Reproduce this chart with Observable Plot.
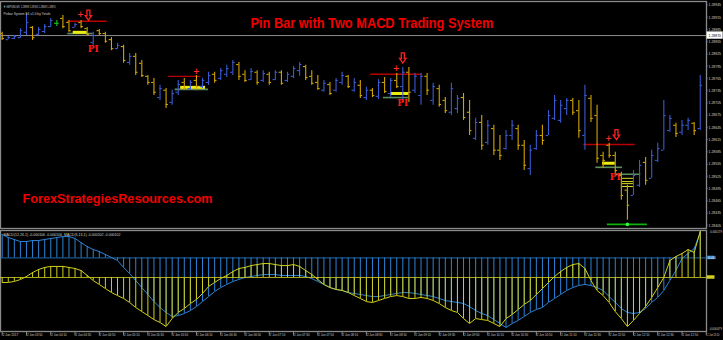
<!DOCTYPE html>
<html><head><meta charset="utf-8">
<script src="https://cdn.jsdelivr.net/npm/d3@7"></script>
<script src="https://cdn.jsdelivr.net/npm/@observablehq/plot@0.6"></script>
<style>
html,body{margin:0;padding:0;background:#000;}
#wrap{position:relative;width:723px;height:340px;background:#000;overflow:hidden;}
</style></head><body><div id="wrap"></div>
<script>
// ---------- price bars (GBPUSD M5) ----------
const opens  = [1.28875,1.28860,1.28863,1.28865,1.28878,1.28890,1.28873,1.28880,1.28892,1.28900,1.28912,1.28902,1.28890,1.28902,1.28887,1.28853,1.28882,1.28875,1.28860,1.28838,1.28843,1.28804,1.28819,1.28802,1.28770,1.28755,1.28718,1.28736,1.28706,1.28731,1.28755,1.28740,1.28760,1.28745,1.28755,1.28775,1.28765,1.28775,1.28780,1.28799,1.28775,1.28762,1.28780,1.28760,1.28775,1.28762,1.28780,1.28760,1.28770,1.28784,1.28794,1.28770,1.28755,1.28736,1.28750,1.28736,1.28755,1.28770,1.28736,1.28748,1.28718,1.28736,1.28721,1.28755,1.28728,1.28760,1.28745,1.28780,1.28736,1.28723,1.28770,1.28711,1.28740,1.28711,1.28682,1.28691,1.28718,1.28682,1.28618,1.28657,1.28608,1.28642,1.28589,1.28593,1.28625,1.28642,1.28601,1.28544,1.28593,1.28625,1.28625,1.28667,1.28662,1.28691,1.28711,1.28686,1.28625,1.28716,1.28674,1.28576,1.28601,1.28576,1.28527,1.28491,1.28478,1.28503,1.28559,1.28520,1.28564,1.28589,1.28637,1.28650,1.28633,1.28650,1.28655,1.28642];
const highs  = [1.28878,1.28868,1.28870,1.28887,1.28922,1.28892,1.28890,1.28897,1.28912,1.28907,1.28919,1.28907,1.28900,1.28907,1.28890,1.28878,1.28885,1.28878,1.28865,1.28851,1.28846,1.28826,1.28826,1.28809,1.28772,1.28765,1.28748,1.28740,1.28736,1.28760,1.28765,1.28760,1.28772,1.28765,1.28780,1.28780,1.28789,1.28797,1.28809,1.28804,1.28784,1.28789,1.28784,1.28784,1.28780,1.28784,1.28784,1.28780,1.28794,1.28804,1.28797,1.28784,1.28772,1.28760,1.28755,1.28765,1.28780,1.28772,1.28765,1.28760,1.28743,1.28740,1.28762,1.28767,1.28765,1.28777,1.28792,1.28792,1.28777,1.28777,1.28777,1.28753,1.28748,1.28718,1.28753,1.28723,1.28728,1.28711,1.28667,1.28674,1.28662,1.28650,1.28625,1.28637,1.28662,1.28650,1.28613,1.28601,1.28637,1.28650,1.28686,1.28723,1.28711,1.28716,1.28716,1.28711,1.28748,1.28723,1.28699,1.28584,1.28606,1.28584,1.28535,1.28503,1.28539,1.28564,1.28571,1.28589,1.28606,1.28711,1.28674,1.28655,1.28662,1.28667,1.28657,1.28772];
const lows   = [1.28858,1.28860,1.28860,1.28863,1.28870,1.28858,1.28870,1.28875,1.28890,1.28892,1.28887,1.28878,1.28890,1.28887,1.28870,1.28846,1.28870,1.28851,1.28833,1.28836,1.28802,1.28797,1.28772,1.28767,1.28748,1.28723,1.28711,1.28691,1.28699,1.28723,1.28736,1.28736,1.28736,1.28740,1.28748,1.28753,1.28760,1.28767,1.28772,1.28760,1.28755,1.28760,1.28748,1.28755,1.28748,1.28760,1.28748,1.28755,1.28765,1.28770,1.28760,1.28748,1.28736,1.28731,1.28723,1.28731,1.28748,1.28740,1.28731,1.28716,1.28711,1.28718,1.28713,1.28728,1.28718,1.28740,1.28706,1.28706,1.28728,1.28699,1.28723,1.28699,1.28694,1.28679,1.28674,1.28679,1.28662,1.28625,1.28613,1.28589,1.28601,1.28576,1.28564,1.28589,1.28613,1.28589,1.28539,1.28527,1.28589,1.28601,1.28625,1.28662,1.28655,1.28674,1.28674,1.28618,1.28589,1.28657,1.28557,1.28544,1.28569,1.28532,1.28466,1.28417,1.28478,1.28498,1.28503,1.28520,1.28559,1.28589,1.28633,1.28620,1.28625,1.28637,1.28625,1.28637];
const closes = [1.28863,1.28865,1.28868,1.28882,1.28902,1.28865,1.28885,1.28892,1.28907,1.28900,1.28892,1.28882,1.28897,1.28892,1.28873,1.28870,1.28875,1.28856,1.28838,1.28846,1.28809,1.28819,1.28780,1.28772,1.28755,1.28731,1.28740,1.28701,1.28728,1.28750,1.28740,1.28755,1.28745,1.28760,1.28772,1.28760,1.28784,1.28789,1.28804,1.28770,1.28760,1.28782,1.28755,1.28777,1.28755,1.28780,1.28753,1.28775,1.28789,1.28799,1.28767,1.28753,1.28740,1.28753,1.28728,1.28760,1.28772,1.28745,1.28755,1.28723,1.28736,1.28723,1.28755,1.28733,1.28760,1.28745,1.28780,1.28731,1.28770,1.28770,1.28736,1.28745,1.28701,1.28686,1.28740,1.28716,1.28669,1.28637,1.28657,1.28601,1.28650,1.28589,1.28576,1.28625,1.28650,1.28601,1.28552,1.28589,1.28625,1.28613,1.28674,1.28711,1.28699,1.28711,1.28682,1.28637,1.28723,1.28667,1.28569,1.28564,1.28576,1.28539,1.28478,1.28454,1.28527,1.28552,1.28515,1.28576,1.28593,1.28674,1.28667,1.28630,1.28650,1.28662,1.28637,1.28748];
const greenBars = [9];

// ---------- two MACD histograms ----------
const macdBlue = [0.000159,0.000138,0.000125,0.000111,0.000111,0.000118,0.000118,0.000125,0.000132,0.000138,0.000145,0.000145,0.000132,0.000104,0.000077,0.000057,0.000043,0.000023,0.000003,-0.000018,-0.000065,-0.000106,-0.000153,-0.000201,-0.000248,-0.000296,-0.000336,-0.000370,-0.000397,-0.000391,-0.000377,-0.000357,-0.000330,-0.000296,-0.000262,-0.000228,-0.000201,-0.000180,-0.000160,-0.000146,-0.000133,-0.000126,-0.000119,-0.000113,-0.000113,-0.000113,-0.000119,-0.000119,-0.000119,-0.000119,-0.000126,-0.000140,-0.000160,-0.000180,-0.000201,-0.000214,-0.000221,-0.000235,-0.000241,-0.000248,-0.000255,-0.000262,-0.000262,-0.000255,-0.000248,-0.000241,-0.000235,-0.000235,-0.000241,-0.000248,-0.000255,-0.000262,-0.000275,-0.000289,-0.000296,-0.000302,-0.000309,-0.000330,-0.000357,-0.000377,-0.000391,-0.000418,-0.000445,-0.000472,-0.000445,-0.000424,-0.000397,-0.000370,-0.000350,-0.000336,-0.000302,-0.000275,-0.000248,-0.000221,-0.000201,-0.000187,-0.000180,-0.000187,-0.000201,-0.000221,-0.000262,-0.000302,-0.000343,-0.000370,-0.000377,-0.000370,-0.000343,-0.000302,-0.000268,-0.000221,-0.000153,-0.000085,-0.000004,0.000030,0.000064,0.000172];
const macdYellow = [-0.000034,-0.000034,-0.000027,-0.000014,0.000007,0.000034,0.000055,0.000069,0.000076,0.000076,0.000076,0.000069,0.000062,0.000048,0.000014,-0.000021,-0.000048,-0.000076,-0.000103,-0.000124,-0.000144,-0.000172,-0.000206,-0.000234,-0.000261,-0.000289,-0.000309,-0.000337,-0.000282,-0.000240,-0.000213,-0.000179,-0.000151,-0.000110,-0.000062,-0.000034,-0.000007,0.000014,0.000041,0.000062,0.000069,0.000082,0.000089,0.000096,0.000096,0.000089,0.000082,0.000082,0.000089,0.000076,0.000048,0.000021,-0.000014,-0.000048,-0.000069,-0.000082,-0.000089,-0.000103,-0.000124,-0.000144,-0.000165,-0.000172,-0.000158,-0.000144,-0.000131,-0.000124,-0.000131,-0.000144,-0.000144,-0.000137,-0.000144,-0.000158,-0.000179,-0.000206,-0.000227,-0.000240,-0.000282,-0.000316,-0.000282,-0.000289,-0.000295,-0.000316,-0.000337,-0.000282,-0.000254,-0.000220,-0.000185,-0.000158,-0.000117,-0.000076,-0.000034,0.000007,0.000041,0.000069,0.000089,0.000096,0.000062,-0.000021,-0.000089,-0.000124,-0.000172,-0.000234,-0.000282,-0.000337,-0.000295,-0.000247,-0.000199,-0.000137,-0.000069,0.000000,0.000117,0.000144,0.000165,0.000192,0.000172,0.000316];

// ---------- pin bar signals ----------
const redLines    = [{a:10.8,b:17.3,p:1.28905},{a:27.4,b:32.7,p:1.28770},{a:60.7,b:69.2,p:1.28775},{a:95.8,b:104.3,p:1.28603}];
const redCrosses  = [{i:12.9,p:1.28923},{i:32,p:1.28782},{i:64.9,p:1.28790},{i:99.9,p:1.28619}];
const downArrows  = [{i:14.2,p:1.28919},{i:66,p:1.28814},{i:101.2,p:1.28626}];
const piLabels    = [{i:15,p:1.28838},{i:66,p:1.28704},{i:101,p:1.28522}];
const yellowBands = [{a:11.7,b:14,p:1.28878},{a:29.4,b:33.5,p:1.28743},{a:64,b:67,p:1.28728},{a:98.9,b:101,p:1.28557}];
const yellowSteps = [{a:102.2,b:104,p:1.28520},{a:102.2,b:104,p:1.28512},{a:102.2,b:104,p:1.28507},{a:102.2,b:104,p:1.28500}];
const greenLines  = [{a:10.8,b:15,p:1.28875},{a:28.5,b:34,p:1.28738},{a:62.8,b:67,p:1.28718},{a:97.8,b:102.2,p:1.28547},{a:101,b:105.2,p:1.28530}];
const targetLines = [{a:99.7,b:106.3,p:1.28407}];
const targetDots  = [{i:103,p:1.28407}];
const bidPrice = 1.28870;

// ---------- axis labels ----------
const priceTicks = [1.28405,1.28435,1.28465,1.28495,1.28525,1.28555,1.28585,1.28615,1.28645,1.28675,1.28705,1.28735,1.28765,1.28795,1.28825,1.28855,1.28885,1.28915,1.28945];
const timeTickBars = [0,4,8,12,16,20,24,28,32,36,40,44,48,52,56,60,64,68,72,76,80,84,88,92,96,100,104,108,112];
const timeTickLabels = ["2 Jun 2017","2 Jun 03:50","2 Jun 04:10","2 Jun 04:30","2 Jun 04:50","2 Jun 05:10","2 Jun 05:30","2 Jun 05:50","2 Jun 06:10","2 Jun 06:30","2 Jun 06:50","2 Jun 07:10","2 Jun 07:30","2 Jun 07:50","2 Jun 08:10","2 Jun 08:30","2 Jun 08:50","2 Jun 09:10","2 Jun 09:30","2 Jun 09:50","2 Jun 10:10","2 Jun 10:30","2 Jun 10:50","2 Jun 11:10","2 Jun 11:30","2 Jun 11:50","2 Jun 12:10","2 Jun 12:30","2 Jun 12:50"];
const lastTimeBar = 116, lastTimeLabel = "2 Jun 13:10";
const macdTicks = [0.000179,-0.000479];
const headerLine1 = "\u25BC GBPUSD,M5  1.28898 1.28905 1.28849 1.28870";
const headerLine2 = "Pinbar System E4 v1.0 by Yetafx";
const macdHeader = "MACD(12,26,1) -0.000106 -0.000106  MACD(5,13,1) -0.000102 -0.000102";
const TITLE = "Pin Bar with Two MACD Trading System";
const WATERMARK = "ForexStrategiesResources.com";

// ---------- styles ----------
const BLUE = "#3a5ad2", GOLD = "#d2a400", GREEN = "#19c419";
const MBLUE = "#2c82d6", MYEL = "#cfcf1c";
const GRID = "#8a8a8a", LBL = "#cfcfcf";
const TINY = "Liberation Sans";
const W = 723, XDOM = [-0.28, 116.03];

const idx = d3.range(opens.length);
const bars = idx.map(i => ({i, o: opens[i], h: highs[i], l: lows[i], c: closes[i],
  col: greenBars.includes(i) ? GREEN : (closes[i] >= opens[i] ? BLUE : GOLD)}));
const tw = 0.38;

// hollow down-arrow symbol for the pin bar signal
const hollowArrow = {
  draw(ctx, size) {
    const h = Math.sqrt(size);
    ctx.moveTo(-0.17 * h, -0.62 * h);
    ctx.lineTo(0.17 * h, -0.62 * h);
    ctx.lineTo(0.17 * h, 0);
    ctx.lineTo(0.36 * h, 0);
    ctx.lineTo(0, 0.52 * h);
    ctx.lineTo(-0.36 * h, 0);
    ctx.lineTo(-0.17 * h, 0);
    ctx.closePath();
  }
};

const main = Plot.plot({
  width: W, height: 229, marginTop: 1, marginBottom: 1, marginLeft: 0, marginRight: 17,
  style: {background: "transparent", overflow: "visible", position: "absolute", left: "0px", top: "0px"},
  x: {domain: XDOM, axis: null},
  y: {domain: [1.283970, 1.289535], axis: null},
  color: {type: "identity"},
  marks: [
    Plot.frame({stroke: GRID, strokeWidth: 1.3}),
    Plot.ruleY([bidPrice], {stroke: "#8c8c8c", strokeWidth: 1}),
    Plot.ruleY(greenLines, {x1: "a", x2: "b", y: "p", stroke: "#5e8c5e", strokeWidth: 1.6}),
    Plot.ruleY(yellowBands, {x1: "a", x2: "b", y: "p", stroke: "#ecec10", strokeWidth: 3}),
    Plot.ruleY(yellowSteps, {x1: "a", x2: "b", y: "p", stroke: "#dede20", strokeWidth: 1}),
    Plot.ruleY(targetLines, {x1: "a", x2: "b", y: "p", stroke: "#10b010", strokeWidth: 1.6}),
    Plot.dot(targetDots, {x: "i", y: "p", r: 1.8, fill: "#30ff30"}),
    Plot.ruleY(redLines, {x1: "a", x2: "b", y: "p", stroke: "#b80000", strokeWidth: 1.4}),
    Plot.ruleX(bars, {x: "i", y1: "l", y2: "h", stroke: "col", strokeWidth: 1.1}),
    Plot.ruleY(bars, {y: "o", x1: d => d.i - tw, x2: "i", stroke: "col", strokeWidth: 1.1}),
    Plot.ruleY(bars, {y: "c", x1: "i", x2: d => d.i + tw, stroke: "col", strokeWidth: 1.1}),
    Plot.text(redCrosses, {x: "i", y: "p", text: () => "+", fill: "#ff2a2a", fontSize: 8, fontWeight: "bold", fontFamily: "DejaVu Sans"}),
    Plot.dot(downArrows, {x: "i", y: "p", r: 5, symbol: hollowArrow, stroke: "#ff2020", strokeWidth: 1.3, fill: "none"}),
    Plot.text(piLabels, {x: "i", y: "p", text: () => "PI", fill: "#ff1a1a", fontSize: 9, fontWeight: "bold", fontFamily: "DejaVu Serif"}),
    Plot.text([TITLE], {frameAnchor: "top-left", dx: 250, dy: 17, text: d => d, textAnchor: "start", fill: "#f00000", fontSize: 14, fontWeight: "bold", fontFamily: "Liberation Sans"}),
    Plot.text([WATERMARK], {frameAnchor: "top-left", dx: 22, dy: 192, text: d => d, textAnchor: "start", fill: "#f00000", fontSize: 13, fontWeight: "bold", fontFamily: "Liberation Sans"}),
    Plot.text([headerLine1], {frameAnchor: "top-left", dx: 3, dy: 3.5, text: d => d, textAnchor: "start", fill: LBL, fontSize: 4, fontFamily: TINY}),
    Plot.text([headerLine2], {frameAnchor: "top-left", dx: 3, dy: 10.5, text: d => d, textAnchor: "start", fill: LBL, fontSize: 4, fontFamily: TINY}),
    Plot.ruleY(priceTicks, {y: d => d, x1: XDOM[1], x2: XDOM[1] + 0.25, stroke: GRID}),
    Plot.text(priceTicks, {x: XDOM[1], y: d => d, text: d => d.toFixed(5), dx: 2, textAnchor: "start", fill: LBL, fontSize: 4.2, fontFamily: TINY}),
    Plot.rect([bidPrice], {x1: XDOM[1] + 0.1, x2: XDOM[1] + 2.75, y1: d => d - 0.00009, y2: d => d + 0.00009, fill: "#ffffff"}),
    Plot.text([bidPrice], {x: XDOM[1], y: d => d, text: d => d.toFixed(5), dx: 2, textAnchor: "start", fill: "#000", fontSize: 4.2, fontFamily: TINY})
  ]
});

const macdB = Plot.plot({
  width: W, height: 111, marginTop: 1, marginBottom: 9, marginLeft: 0, marginRight: 17,
  style: {background: "transparent", overflow: "visible", position: "absolute", left: "0px", top: "229px"},
  x: {domain: XDOM, axis: null},
  y: {domain: [-0.000499, 0.000186], axis: null},
  marks: [
    Plot.frame({stroke: GRID, strokeWidth: 1.3}),
    Plot.ruleY([0], {stroke: MBLUE, strokeOpacity: 0.8}),
    Plot.ruleX(idx, {x: i => i, y1: 0, y2: i => macdBlue[i], stroke: MBLUE, strokeWidth: 1}),
    Plot.line(idx, {x: i => i, y: i => macdBlue[i], stroke: MBLUE, strokeWidth: 1}),
    Plot.text([macdHeader], {frameAnchor: "top-left", dx: 3, dy: 3, text: d => d, textAnchor: "start", fill: LBL, fontSize: 4.2, fontFamily: TINY}),
    Plot.text(macdTicks, {x: XDOM[1], y: d => d, text: d => d.toFixed(6), dx: 15.5, dy: 0.5, textAnchor: "end", fill: LBL, fontSize: 3.4, fontFamily: TINY}),
    Plot.rect([0], {x1: XDOM[1] + 0.1, x2: XDOM[1] + 1.4, y1: -0.000012, y2: 0.000012, fill: MBLUE}),
    Plot.text([0], {x: XDOM[1], y: 0, text: () => "0.00", dx: 1.5, textAnchor: "start", fill: "#fff", fontSize: 4, fontFamily: TINY}),
    Plot.ruleX([...timeTickBars, lastTimeBar], {x: d => d, y1: -0.000499, y2: -0.000530, stroke: GRID}),
    Plot.text(timeTickBars, {x: d => d, frameAnchor: "bottom", dy: 4.2, text: (d, i) => timeTickLabels[i], textAnchor: "start", dx: 0.5, fill: LBL, fontSize: 4, fontFamily: TINY}),
    Plot.text([lastTimeBar], {x: d => d, frameAnchor: "bottom", dy: 4, text: () => lastTimeLabel, textAnchor: "end", dx: 13, fill: LBL, fontSize: 3.3, fontFamily: TINY})
  ]
});

const macdY = Plot.plot({
  width: W, height: 111, marginTop: 1, marginBottom: 9, marginLeft: 0, marginRight: 17,
  style: {background: "transparent", overflow: "visible", position: "absolute", left: "0px", top: "229px"},
  x: {domain: XDOM, axis: null},
  y: {domain: [-0.000371, 0.000323], axis: null},
  marks: [
    Plot.ruleY([0], {stroke: MYEL, strokeOpacity: 0.8}),
    Plot.ruleX(idx, {x: i => i, y1: 0, y2: i => macdYellow[i], stroke: MYEL, strokeWidth: 1}),
    Plot.line(idx, {x: i => i, y: i => macdYellow[i], stroke: MYEL, strokeWidth: 1}),
    Plot.rect([0], {x1: XDOM[1] + 0.1, x2: XDOM[1] + 1.4, y1: -0.000012, y2: 0.000012, fill: MYEL})
  ]
});

const wrap = document.getElementById("wrap");
wrap.appendChild(main);
wrap.appendChild(macdB);
wrap.appendChild(macdY);

function fit(el, len) { el.setAttribute("textLength", len); el.setAttribute("lengthAdjust", "spacingAndGlyphs"); }
d3.select(main).selectAll("text").each(function() {
  const t = this.textContent;
  if (t === TITLE) fit(this, 243);
  else if (t === WATERMARK) fit(this, 190);
  else if (t === headerLine1) fit(this, 52);
  else if (t === headerLine2) fit(this, 47);
  else if (/^1\.28\d{3}$/.test(t)) fit(this, 12.5);
});
d3.select(macdB).selectAll("text").each(function() {
  const t = this.textContent;
  if (t === lastTimeLabel) fit(this, 12);
  else if (t.startsWith("2 Jun")) fit(this, 15.5);
  else if (t === macdHeader) fit(this, 117);
  else if (t.startsWith("-0.")) fit(this, 13);
  else if (t.startsWith("0.0001")) fit(this, 12);
});
</script></body></html>
